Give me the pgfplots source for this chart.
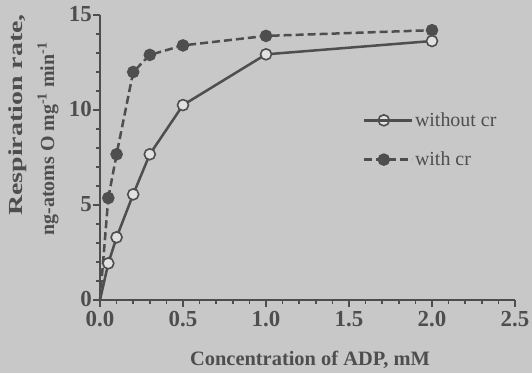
\documentclass[border=0pt]{standalone}
\usepackage{pgfplots}
\pgfplotsset{compat=1.18}
\usepackage{fontspec}
\setmainfont{Liberation Serif}
\definecolor{bg}{RGB}{200,200,200}
\definecolor{fg}{RGB}{78,78,78}
\definecolor{openfill}{RGB}{225,225,225}
\begin{document}
\begin{tikzpicture}[x=1bp,y=1bp]
\fill[bg] (-100,-73) rectangle (432,300);
\begin{axis}[
  at={(0,0)}, anchor=south west,
  width=415bp, height=285bp, scale only axis,
  xmin=0, xmax=2.5, ymin=0, ymax=15,
  clip=false,
  axis x line*=bottom, axis y line*=left,
  xtick={0,0.5,1.0,1.5,2.0,2.5},
  ytick={0,5,10,15},
  minor x tick num=4, minor y tick num=4,
  tick align=outside,
  major tick length=7bp, minor tick length=4bp,
  axis line style={fg, line width=2bp},
  tick style={fg, line width=1.5bp},
  xticklabel style={yshift=-3bp, /pgf/number format/fixed, /pgf/number format/fixed zerofill, /pgf/number format/precision=1},
  yticklabel style={yshift=1bp},
  /pgf/number format/assume math mode=true,
  every tick label/.append style={text=fg, font=\fontsize{23}{26}\selectfont\bfseries, inner sep=1bp},
  legend style={at={(0.625,0.672)}, anchor=north west, draw=none, fill=none,
    text=fg, font=\fontsize{20}{23}\selectfont, row sep=20bp},
  legend cell align=left,
  legend image code/.code={\draw[mark repeat=2,mark phase=2,#1] plot coordinates {(0bp,0bp)(20bp,0bp)(40bp,0bp)}; \path (0bp,0bp) -- (48bp,0bp);},
]
\addplot[fg, line width=2.5bp, forget plot] coordinates {(0,0)(0.05,1.93)};
\addplot[fg, line width=2.5bp, dash pattern=on 8bp off 4bp, forget plot] coordinates {(0,0)(0.05,5.37)};
\addplot[fg, line width=2.5bp, mark=*, mark size=5.5bp,
  mark options={solid, fill=openfill, draw=fg, line width=1.6bp}]
  coordinates {(0.05,1.93)(0.1,3.3)(0.2,5.56)(0.3,7.67)(0.5,10.26)(1.0,12.93)(2.0,13.63)};
\addlegendentry{without cr}
\addplot[fg, line width=2.5bp, dash pattern=on 8bp off 4bp, mark=*, mark size=5bp,
  mark options={solid, fill=fg, draw=fg}]
  coordinates {(0.05,5.37)(0.1,7.67)(0.2,12.0)(0.3,12.9)(0.5,13.4)(1.0,13.9)(2.0,14.2)};
\addlegendentry{with cr}
\end{axis}
\node[rotate=90, text=fg, font=\fontsize{20}{24}\selectfont\bfseries] at (-82,185) {\scalebox{1.4}[1]{Respiration rate,}};
\node[rotate=90, text=fg, font=\fontsize{20}{24}\selectfont\bfseries] at (-52,161) {ng-atoms O mg\textsuperscript{-1} min\textsuperscript{-1}};
\node[text=fg, font=\fontsize{20.5}{24}\selectfont\bfseries] at (210,-60) {Concentration of ADP, mM};
\pgfresetboundingbox
\path (-100,-73) rectangle (432,300);
\end{tikzpicture}
\end{document}
